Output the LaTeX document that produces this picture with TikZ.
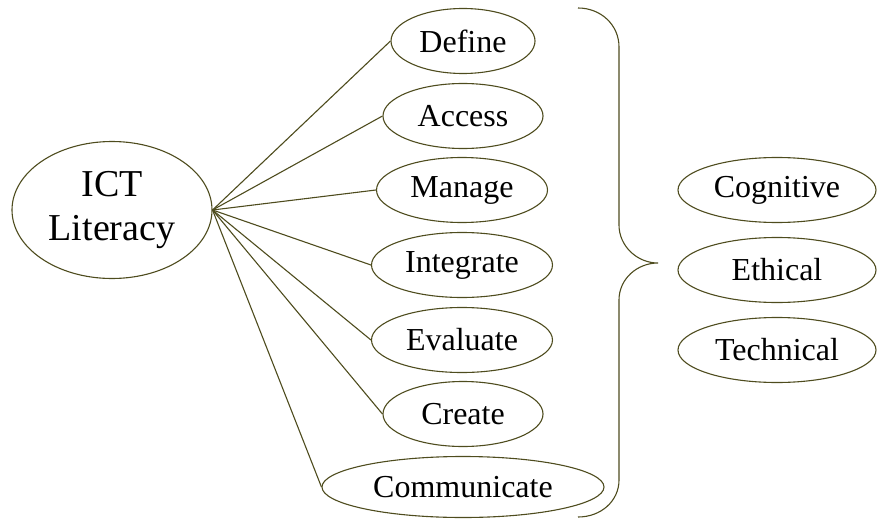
\documentclass[tikz,border=0pt]{standalone}
\usepackage{fontspec}
\setmainfont{Liberation Serif}
\usepackage{tikz}
\usetikzlibrary{shapes,positioning,calc}
\usepackage{xcolor}
\definecolor{edgecol}{RGB}{78,76,30}

\begin{document}
\begin{tikzpicture}[x=0.5pt, y=-0.5pt, line width=0.55pt,
    every node/.style={font=\fontsize{16}{19}\selectfont},
    skill/.style={draw=edgecol, ellipse, inner sep=0pt, minimum height=32.5pt},
    link/.style={draw=edgecol}]
            \useasboundingbox (0,0) rectangle (877,519);

            % Root
            \node[skill, minimum width=100pt, minimum height=68.5pt, align=center,
                  font=\fontsize{19}{22}\selectfont] (ICT) at (112,210) {ICT\\Literacy};

            % Skills
            \node[skill, minimum width=72pt] (Define) at (463,41) {Define};
            \node[skill, minimum width=80pt] (Access) at (463,116) {Access};
            \node[skill, minimum width=85.5pt] (Manage) at (462,190) {Manage};
            \node[skill, minimum width=90.5pt] (Integrate) at (462,265) {Integrate};
            \node[skill, minimum width=90.5pt] (Evaluate) at (462,340) {Evaluate};
            \node[skill, minimum width=80pt] (Create) at (463,414) {Create};
            \node[skill, minimum width=141pt, minimum height=30.5pt] (Communicate) at (463,487) {Communicate};

            \foreach \s in {Define,Access,Manage,Integrate,Evaluate,Create,Communicate}
                \draw[link] (ICT.east) -- (\s.west);

            % Brace
            \draw[edgecol] (578,8) .. controls (601,8) and (619,25) .. (619,47)
                -- (619,225) .. controls (619,246) and (637,263) .. (658,263)
                .. controls (637,263) and (619,279) .. (619,300)
                -- (619,480) .. controls (619,501) and (601,517) .. (578,517);

            % Dimensions
            \node[skill, minimum width=99pt] (Cognitive) at (777,190) {Cognitive};
            \node[skill, minimum width=99pt] (Ethical) at (777,270) {Ethical};
            \node[skill, minimum width=99pt] (Technical) at (777,350) {Technical};
        \end{tikzpicture}
\end{document}
